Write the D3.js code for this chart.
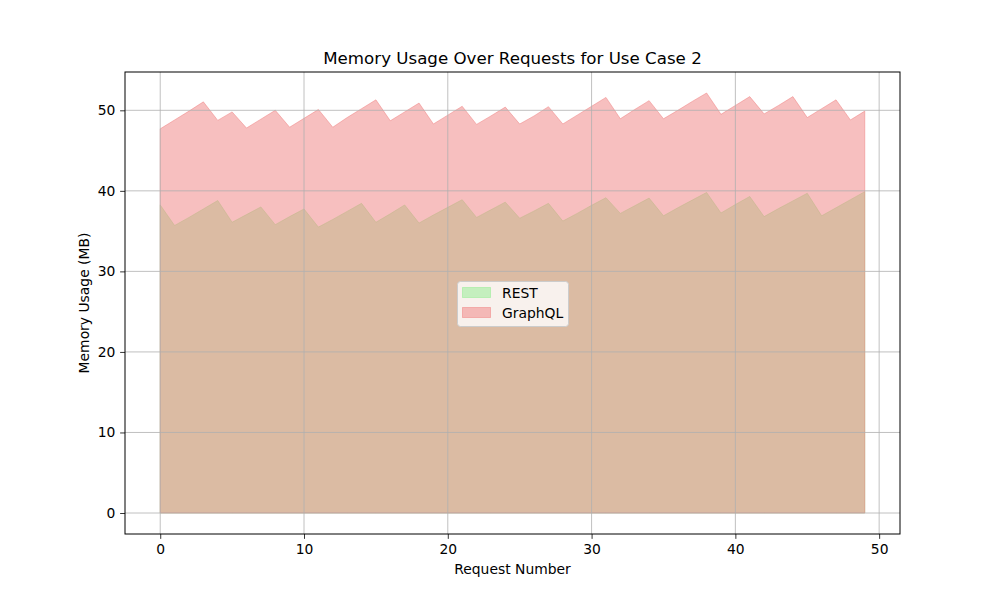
<!DOCTYPE html>
<html>
<head>
<meta charset="utf-8">
<script src="https://cdn.jsdelivr.net/npm/d3@7"></script>
<style>
  body { margin: 0; background: #fff; }
  svg text { font-family: "DejaVu Sans", sans-serif; fill: #000; }
</style>
</head>
<body>
<div id="chart"></div>
<script>
// request numbers 0..49
const requests = d3.range(0, 50);

// memory usage in MB
const restMemory = [
  38.25, 35.7, 36.7, 37.75, 38.8, 36.1, 37.05, 38.0, 35.8, 36.8,
  37.75, 35.5, 36.45, 37.45, 38.45, 36.1, 37.15, 38.25, 36.0, 37.0,
  37.95, 38.9, 36.7, 37.65, 38.6, 36.6, 37.5, 38.45, 36.25, 37.2,
  38.2, 39.15, 37.2, 38.15, 39.1, 36.9, 37.9, 38.85, 39.8, 37.25,
  38.3, 39.3, 36.8, 37.8, 38.75, 39.7, 36.9, 37.9, 38.9, 39.9
];
const graphqlMemory = [
  47.7, 48.8, 49.9, 51.05, 48.75, 49.8, 47.8, 48.9, 50.0, 47.9,
  49.0, 50.1, 47.9, 49.1, 50.2, 51.3, 48.7, 49.8, 50.9, 48.3,
  49.4, 50.5, 48.25, 49.3, 50.4, 48.3, 49.3, 50.45, 48.3, 49.4,
  50.5, 51.6, 48.95, 50.1, 51.2, 48.95, 50.0, 51.1, 52.15, 49.5,
  50.6, 51.7, 49.55, 50.6, 51.7, 49.1, 50.2, 51.3, 48.8, 49.9
];

const xTicks = [0, 10, 20, 30, 40, 50];
const yTicks = [0, 10, 20, 30, 40, 50];

const seriesNames = ["REST", "GraphQL"];
const seriesColors = ["#90ee90", "#f08080"];

const width = 1000, height = 600;
const margin = {top: 72, right: 100, bottom: 66, left: 125};
const innerW = width - margin.left - margin.right;
const innerH = height - margin.top - margin.bottom;
const fs = "13.89px";

const svg = d3.select("#chart").append("svg")
  .attr("width", width)
  .attr("height", height);

// matplotlib-like 5% margins
const xPad = (d3.max(requests) - d3.min(requests)) * 0.05;
const yMax = d3.max(graphqlMemory);
const yPad = yMax * 0.05;

const x = d3.scaleLinear()
  .domain([d3.min(requests) - xPad, d3.max(requests) + xPad])
  .range([0, innerW]);
const y = d3.scaleLinear()
  .domain([-yPad, yMax + yPad])
  .range([innerH, 0]);

const g = svg.append("g").attr("transform", `translate(${margin.left},${margin.top})`);

// filled areas
const area = vals => d3.area()
  .x((d, i) => x(requests[i]))
  .y0(y(0))
  .y1(d => y(d))(vals);

[restMemory, graphqlMemory].forEach((vals, k) => {
  g.append("path")
    .attr("d", area(vals))
    .attr("fill", seriesColors[k])
    .attr("fill-opacity", 0.5)
    .attr("stroke", seriesColors[k])
    .attr("stroke-opacity", 0.5)
    .attr("stroke-width", 1);
});

// grid on top of fills
g.append("g").selectAll("line")
  .data(xTicks).join("line")
  .attr("x1", d => x(d)).attr("x2", d => x(d))
  .attr("y1", 0).attr("y2", innerH)
  .attr("stroke", "#b0b0b0").attr("stroke-width", 0.8);
g.append("g").selectAll("line")
  .data(yTicks).join("line")
  .attr("x1", 0).attr("x2", innerW)
  .attr("y1", d => y(d)).attr("y2", d => y(d))
  .attr("stroke", "#b0b0b0").attr("stroke-width", 0.8);

// axes
const xAxis = g.append("g")
  .attr("transform", `translate(0,${innerH})`)
  .call(d3.axisBottom(x).tickValues(xTicks).tickSizeInner(4.86).tickSizeOuter(0).tickPadding(4.86));
const yAxis = g.append("g")
  .call(d3.axisLeft(y).tickValues(yTicks).tickSizeInner(4.86).tickSizeOuter(0).tickPadding(4.86));
[xAxis, yAxis].forEach(a => {
  a.select(".domain").remove();
  a.selectAll("line").attr("stroke", "#000").attr("stroke-width", 0.8);
  a.selectAll("text").attr("font-size", fs).attr("font-family", "DejaVu Sans");
});

// frame
g.append("rect")
  .attr("width", innerW).attr("height", innerH)
  .attr("fill", "none").attr("stroke", "#000").attr("stroke-width", 1);

// titles
svg.append("text")
  .attr("x", margin.left + innerW / 2).attr("y", 64)
  .attr("text-anchor", "middle").attr("font-size", "16.67px")
  .text("Memory Usage Over Requests for Use Case 2");
svg.append("text")
  .attr("x", margin.left + innerW / 2).attr("y", 574)
  .attr("text-anchor", "middle").attr("font-size", fs)
  .text("Request Number");
svg.append("text")
  .attr("transform", `translate(89,${margin.top + innerH / 2}) rotate(-90)`)
  .attr("text-anchor", "middle").attr("font-size", fs)
  .text("Memory Usage (MB)");

// legend
const legend = svg.append("g").attr("transform", "translate(457.5,281.5)");
legend.append("rect")
  .attr("width", 111).attr("height", 45)
  .attr("rx", 3)
  .attr("fill", "#fff").attr("fill-opacity", 0.8)
  .attr("stroke", "#cccccc").attr("stroke-width", 1);
seriesNames.forEach((name, k) => {
  const row = legend.append("g").attr("transform", `translate(0,${11 + k * 20})`);
  row.append("rect")
    .attr("x", 5).attr("y", -5).attr("width", 28).attr("height", 10)
    .attr("fill", seriesColors[k]).attr("fill-opacity", 0.5)
    .attr("stroke", seriesColors[k]).attr("stroke-opacity", 0.5);
  row.append("text")
    .attr("x", 44.5).attr("y", 5)
    .attr("font-size", fs)
    .text(name);
});
</script>
</body>
</html>
